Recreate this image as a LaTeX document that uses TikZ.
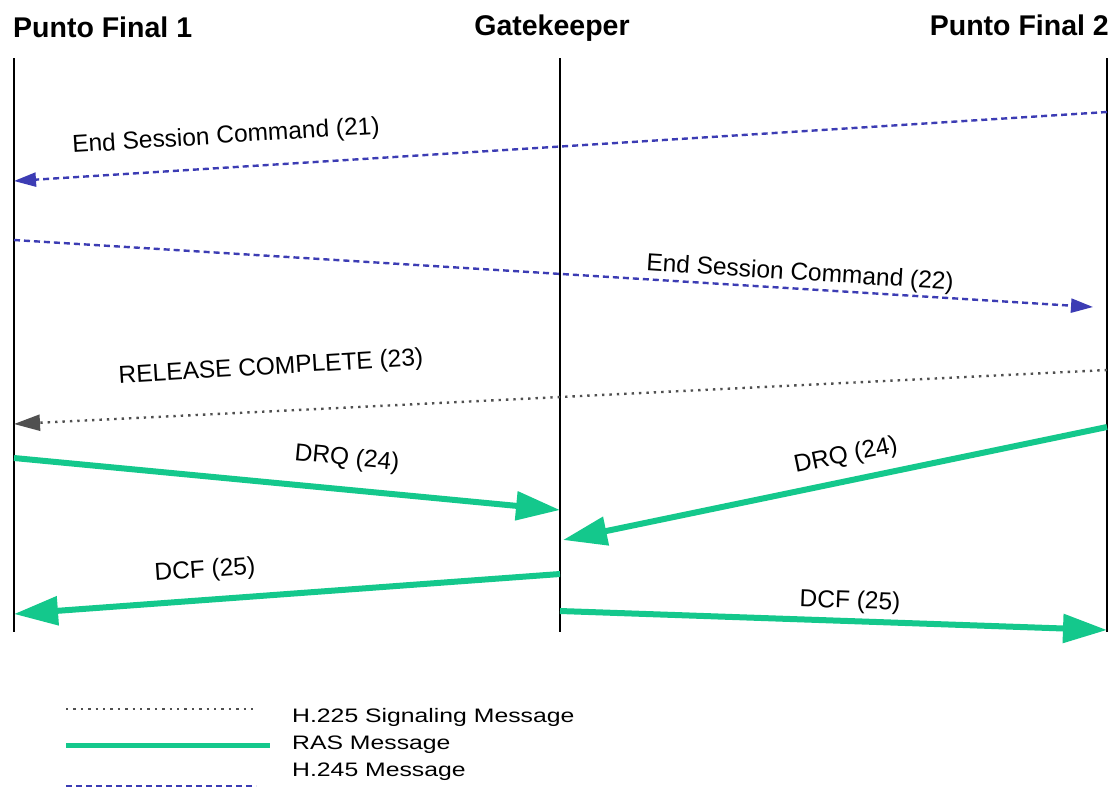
\documentclass[tikz,border=0pt]{standalone}
\usepackage{fontspec}
\setmainfont{Liberation Sans}
\newfontfamily\legfont{Liberation Sans}[FakeStretch=1.27]
\usetikzlibrary{arrows.meta}
\definecolor{rasgreen}{RGB}{20,200,140}
\definecolor{hblue}{RGB}{60,60,180}
\definecolor{sgray}{RGB}{80,80,80}
\begin{document}
\begin{tikzpicture}[x=1pt,y=-1pt,
  header/.style={font=\bfseries\fontsize{28.5}{30}\selectfont, inner sep=0pt, anchor=base},
  lbl/.style={font=\fontsize{24.5}{26}\selectfont, inner sep=0pt},
  leg/.style={font=\legfont\fontsize{19.5}{22}\selectfont, inner sep=0pt, anchor=base west},
  life/.style={line width=1.5pt},
  rasline/.style={rasgreen, line width=6pt},
  h245line/.style={hblue, line width=2.4pt, dash pattern=on 6pt off 4pt},
  h225line/.style={sgray, line width=2.4pt, dash pattern=on 2.4pt off 5pt},
  ras/.style={rasline, -{Triangle[length=44pt,width=28pt]}},
  h245/.style={h245line, -{Triangle[length=22pt,width=14pt]}},
  h225/.style={h225line, -{Triangle[length=26pt,width=16pt]}},
]
\useasboundingbox[fill=white] (0,0) rectangle (1111,788);

% headers
\node[header, anchor=base west] (hp1) at (13,37) {Punto Final 1};
\node[header] (hgk) at (552,35) {Gatekeeper};
\node[header, anchor=base east] (hp2) at (1109,35) {Punto Final 2};

% lifelines
\coordinate (p1t) at (14,58);   \coordinate (p1b) at (14,632);
\coordinate (gkt) at (560,58);  \coordinate (gkb) at (560,632);
\coordinate (p2t) at (1107,58); \coordinate (p2b) at (1107,632);
\draw[life] (p1t) -- (p1b);
\draw[life] (gkt) -- (gkb);
\draw[life] (p2t) -- (p2b);

% message end points
\coordinate (m21s) at (1107,112); \coordinate (m21e) at (14,181);
\coordinate (m22s) at (14,240);   \coordinate (m22e) at (1093,307);
\coordinate (m23s) at (1107,370); \coordinate (m23e) at (14,424);
\coordinate (m24as) at (14,458);  \coordinate (m24ae) at (560,510);
\coordinate (m24bs) at (1107,427);\coordinate (m24be) at (563,540);
\coordinate (m25as) at (560,574); \coordinate (m25ae) at (14,614);
\coordinate (m25bs) at (560,611); \coordinate (m25be) at (1107,630);

\draw[h245] (m21s) -- (m21e);
\draw[h245] (m22s) -- (m22e);
\draw[h225] (m23s) -- (m23e);
\draw[ras] (m24as) -- (m24ae);
\draw[ras] (m24bs) -- (m24be);
\draw[ras] (m25as) -- (m25ae);
\draw[ras] (m25bs) -- (m25be);

% labels
\node[lbl, rotate=3.6] (l21) at (226,137) {End Session Command (21)};
\node[lbl, rotate=-3.6] (l22) at (800,274) {End Session Command (22)};
\node[lbl, rotate=3.5] (l23) at (271,368) {RELEASE COMPLETE (23)};
\node[lbl, rotate=-5.5] (l24a) at (347,459) {DRQ (24)};
\node[lbl, rotate=11.7] (l24b) at (846,456) {DRQ (24)};
\node[lbl, rotate=4] (l25a) at (205,571) {DCF (25)};
\node[lbl, rotate=-2] (l25b) at (850,602) {DCF (25)};

% legend
\coordinate (g1a) at (66,709);  \coordinate (g1b) at (256,709);
\coordinate (g2a) at (66,745);  \coordinate (g2b) at (270,745);
\coordinate (g3a) at (66,786);  \coordinate (g3b) at (256,786);
\draw[h225line] (g1a) -- (g1b);
\draw[rasline, line width=5pt] (g2a) -- (g2b);
\draw[h245line] (g3a) -- (g3b);
\node[leg] (t1) at (292,722) {H.225 Signaling Message};
\node[leg] (t2) at (292,749) {RAS Message};
\node[leg] (t3) at (292,776) {H.245 Message};
\end{tikzpicture}
\end{document}
